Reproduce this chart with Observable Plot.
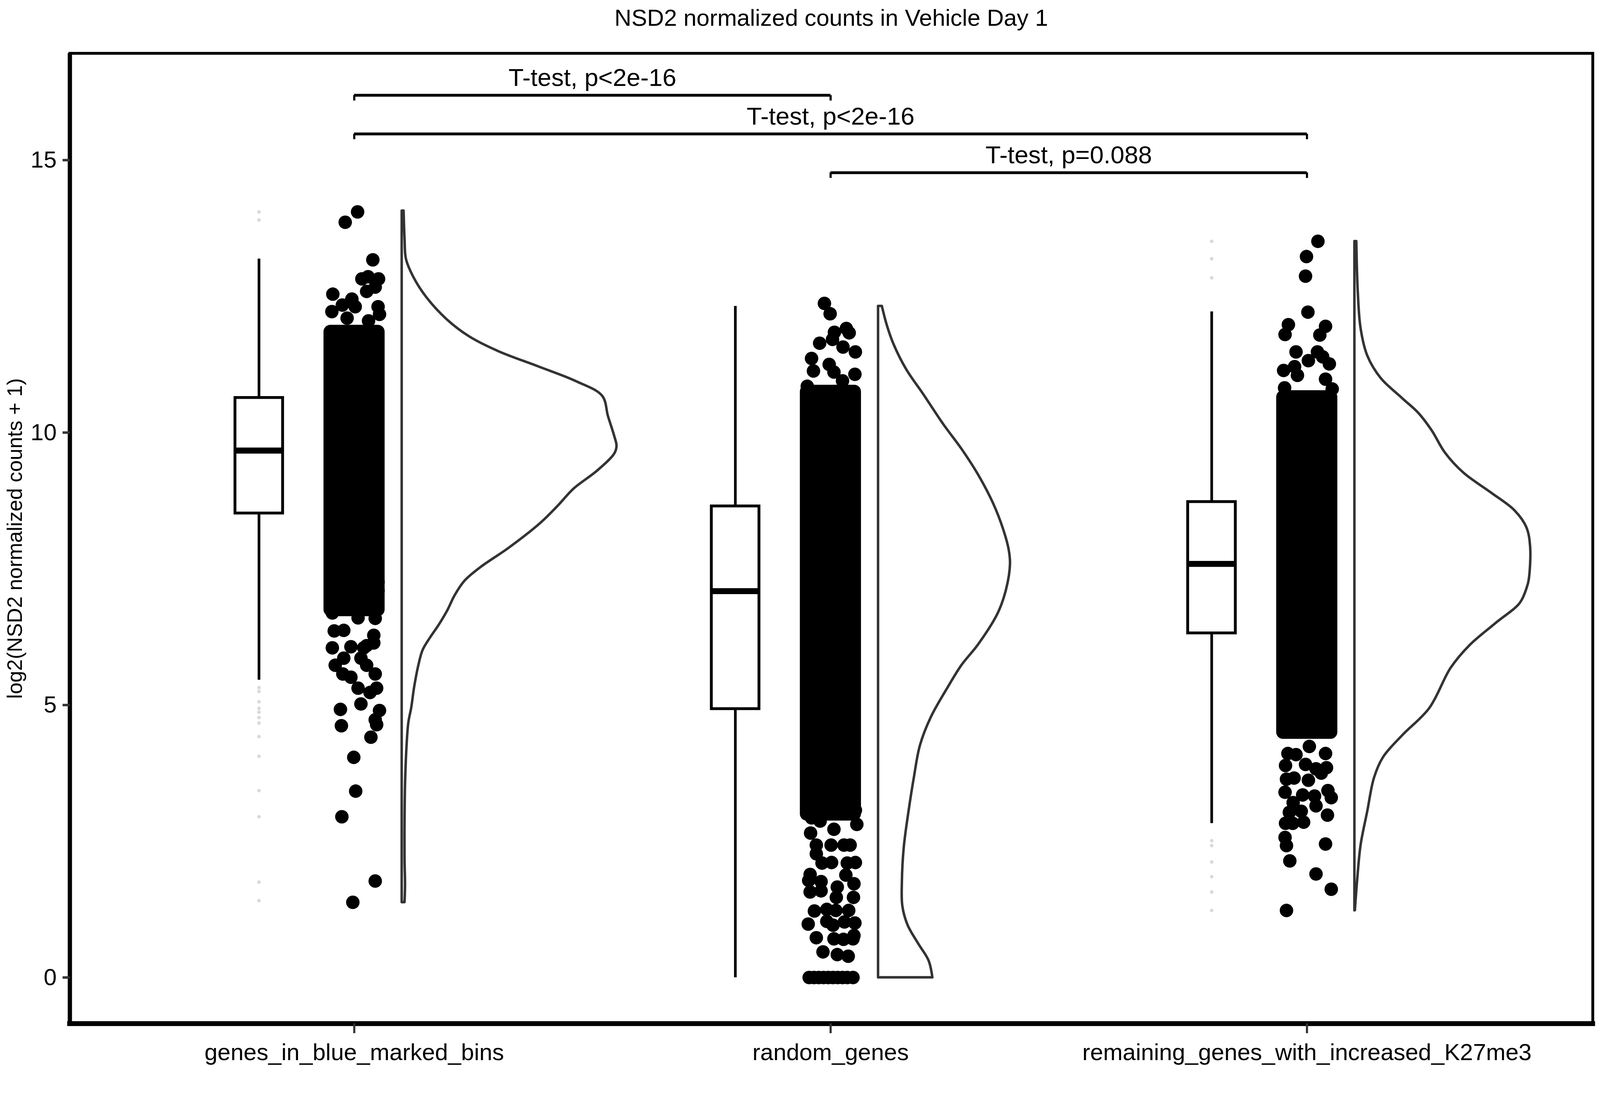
<!DOCTYPE html>
<html><head><meta charset="utf-8">
<script src="https://cdn.jsdelivr.net/npm/d3@7"></script>
<script src="https://cdn.jsdelivr.net/npm/@observablehq/plot@0.6"></script>
<style>
html,body{margin:0;padding:0;background:#fff;}
body{position:relative;width:100vw;height:100vh;overflow:hidden;font-family:"Liberation Sans",Arial,sans-serif;}
#title{position:absolute;transform:translateX(-50%);white-space:nowrap;line-height:1;color:#000;}
#chart{position:absolute;left:0;}
</style></head><body>
<div id="title">NSD2 normalized counts in Vehicle Day 1</div>
<div id="chart"></div>
<script>
// ---------- data ----------
const categories = ["genes_in_blue_marked_bins", "random_genes", "remaining_genes_with_increased_K27me3"];
const yTicks = [0, 5, 10, 15];
const yLabel = "log2(NSD2 normalized counts + 1)";

// boxplot statistics
const whiskerLow  = [5.46, 0.00, 2.83];
const boxQ1       = [8.52, 4.93, 6.32];
const boxMedian   = [9.67, 7.09, 7.59];
const boxQ3       = [10.64, 8.65, 8.73];
const whiskerHigh = [13.19, 12.32, 12.22];

// boxplot outliers
const outliers1 = [14.05, 13.90, 5.32, 5.25, 5.06, 4.94, 4.87, 4.77, 4.67, 4.42, 4.06, 3.43, 2.95, 1.75, 1.41];
const outliers2 = [];
const outliers3 = [13.51, 13.19, 12.84, 2.51, 2.42, 2.12, 1.85, 1.57, 1.23];

// half-violin density profile: [value, width in category units]
const violin1 = [[1.38,0.006],[1.71,0.007],[2.16,0.006],[2.85,0.006],[3.53,0.007],[4.22,0.010],[4.68,0.014],[4.95,0.020],[5.32,0.026],[5.73,0.035],[6.01,0.044],[6.23,0.059],[6.46,0.077],[6.74,0.096],[7.01,0.111],[7.28,0.132],[7.52,0.164],[7.88,0.224],[8.34,0.291],[8.65,0.327],[8.97,0.361],[9.29,0.409],[9.61,0.446],[9.75,0.451],[9.94,0.446],[10.30,0.433],[10.67,0.421],[10.94,0.366],[11.21,0.287],[11.49,0.203],[11.76,0.142],[12.08,0.094],[12.49,0.051],[12.86,0.024],[13.18,0.009],[13.55,0.006],[14.07,0.004]];
const violin2 = [[0.00,0.114],[0.31,0.106],[0.61,0.085],[0.96,0.062],[1.31,0.051],[1.74,0.050],[2.39,0.054],[3.05,0.064],[3.66,0.075],[4.26,0.088],[4.78,0.111],[5.35,0.148],[5.73,0.175],[6.11,0.210],[6.68,0.251],[7.13,0.269],[7.59,0.277],[7.86,0.274],[8.24,0.262],[8.69,0.242],[9.24,0.209],[9.70,0.175],[10.15,0.137],[10.70,0.095],[11.16,0.059],[11.61,0.033],[11.98,0.018],[12.32,0.008]];
const violin3 = [[1.23,0.001],[1.81,0.006],[2.43,0.013],[3.05,0.027],[3.66,0.041],[4.04,0.060],[4.44,0.100],[4.94,0.157],[5.68,0.202],[6.09,0.241],[6.50,0.296],[6.87,0.347],[7.16,0.362],[7.30,0.366],[7.89,0.369],[8.26,0.361],[8.57,0.336],[8.90,0.286],[9.26,0.229],[9.63,0.190],[10.04,0.162],[10.36,0.134],[10.63,0.100],[11.00,0.055],[11.41,0.027],[11.91,0.013],[12.60,0.007],[13.51,0.004]];

// dense part of each jitter cloud (value range where points fully overlap)
const coreLow  = [6.75, 3.00, 4.50];
const coreHigh = [11.85, 10.75, 10.65];

// individually visible jittered points: [value, observed jitter in category units]
const jitter1 = [[14.05,0.007],[13.86,-0.019],[13.17,0.039],[12.86,0.029],[12.82,0.051],[12.82,0.016],[12.67,0.044],[12.59,0.026],[12.54,-0.045],[12.45,-0.005],[12.34,-0.025],[12.31,0.002],[12.31,0.050],[12.22,-0.047],[12.17,0.053],[12.10,-0.015],[12.05,0.030],[11.83,-0.049],
  [7.26,0.050],[7.10,0.050],[7.05,-0.046],[6.69,-0.046],[6.60,0.008],[6.59,0.044],[6.37,-0.022],[6.36,-0.042],[6.28,0.041],[6.14,0.041],[6.09,0.026],[6.07,-0.007],[6.05,-0.046],[6.05,0.020],[5.86,-0.022],[5.86,0.014],[5.73,-0.040],[5.73,0.026],[5.57,-0.024],[5.57,0.044],[5.51,-0.007],[5.31,0.008],[5.31,0.047],[5.23,0.033],[5.02,0.014],[4.92,-0.029],[4.90,0.053],[4.73,0.044],[4.64,0.047],[4.62,-0.027],[4.41,0.035],[4.04,-0.001],[3.42,0.003],[2.95,-0.026],[1.77,0.044],[1.38,-0.003]];
const jitter2 = [[12.37,-0.013],[12.18,-0.001],[11.91,0.033],[11.83,0.039],[11.84,0.008],[11.64,-0.023],[11.71,0.004],[11.57,0.026],[11.48,0.052],[11.36,-0.040],[11.25,-0.003],[11.13,-0.036],[11.07,0.051],[10.95,0.025],[10.85,-0.049],[11.11,0.007],
  [3.09,-0.019],[3.07,0.052],[3.05,0.012],
  [2.93,-0.040],[2.87,-0.022],[2.81,0.055],[2.72,0.007],[2.65,-0.042],
  [2.43,-0.030],[2.43,0.001],[2.43,0.028],[2.43,0.041],
  [2.27,-0.030],[2.11,0.002],[2.10,-0.018],[2.11,0.052],[2.10,0.035],
  [1.89,-0.043],[1.88,0.032],[1.78,-0.046],[1.76,-0.020],[1.66,0.014],[1.72,0.049],
  [1.57,-0.043],[1.59,-0.020],[1.47,0.012],[1.47,0.048],
  [1.22,-0.034],[1.25,-0.008],[1.23,0.011],[1.23,0.038],
  [0.98,-0.047],[1.03,-0.008],[0.96,0.005],[1.02,0.029],[1.00,0.051],
  [0.73,-0.030],[0.71,0.007],[0.70,0.027],[0.71,0.047],[0.77,0.049],
  [0.47,-0.016],[0.42,0.014],[0.39,0.037],
  [0,-0.045],[0,-0.035],[0,-0.025],[0,-0.015],[0,-0.005],[0,0.005],[0,0.015],[0,0.025],[0,0.035],[0,0.047]];
const jitter3 = [[13.51,0.023],[13.23,-0.001],[12.87,-0.003],[12.21,0.002],[11.98,-0.039],[11.80,-0.046],[11.95,0.039],[11.79,0.027],[11.48,-0.023],[11.48,0.022],[11.39,0.033],[11.26,0.047],[11.32,0.003],[11.14,-0.049],[11.21,-0.026],[11.05,-0.020],[10.98,0.039],[10.82,-0.047],[10.80,0.053],
  [4.11,-0.040],[4.09,-0.023],[4.24,0.005],[4.11,0.039],[3.85,0.041],[3.89,-0.045],[3.91,-0.003],[3.83,0.019],[3.64,-0.043],[3.66,-0.027],[3.62,0.003],[3.75,0.030],[3.40,-0.046],[3.35,-0.009],[3.33,0.016],[3.43,0.044],[3.30,0.051],[3.21,-0.029],[3.15,0.019],[3.05,-0.012],[3.03,-0.037],[2.98,0.043],[2.85,-0.007],[2.83,-0.045],[2.83,-0.030],[2.57,-0.046],[2.42,-0.043],[2.45,0.039],[2.14,-0.036],[1.90,0.019],[1.62,0.051],[1.23,-0.043]];

// significance brackets
const bracketFrom   = [1, 1, 2];
const bracketTo     = [2, 3, 3];
const bracketY      = [16.19, 15.48, 14.77];
const bracketLabels = ["T-test, p<2e-16", "T-test, p<2e-16", "T-test, p=0.088"];

// ---------- layout (designed for 4960x2834, scaled to the actual window) ----------
const W = window.innerWidth || 4960, H = window.innerHeight || 2834;
const kx = W / 4960, ky = H / 2834, kf = Math.sqrt(kx * ky);
const X_DOMAIN = [0.403, 3.600];
const Y_DOMAIN = [-0.846, 16.96];
const BOX_OFF = -0.2, BOX_HALF = 0.05, VIOLIN_OFF = 0.1, JITTER_HALF = 0.05;
const TITLE_H = 110 * ky;
const DOT_R = 19 * kf;

const titleEl = document.getElementById("title");
titleEl.style.left = (2577 * kx) + "px";
titleEl.style.top = (16 * ky) + "px";
titleEl.style.fontSize = (66 * kf) + "px";
document.getElementById("chart").style.top = TITLE_H + "px";

// ---------- tables ----------
const boxes = categories.map((c, i) => ({pos: i + 1, lo: whiskerLow[i], q1: boxQ1[i], med: boxMedian[i], q3: boxQ3[i], hi: whiskerHigh[i]}));
const violins = [violin1, violin2, violin3].flatMap((v, i) => v.map(([value, w]) => ({pos: i + 1, value, w})));
const points = [jitter1, jitter2, jitter3].flatMap((v, i) => v.map(([value, j]) => ({pos: i + 1, value, j})));
const outs = [outliers1, outliers2, outliers3].flatMap((v, i) => v.map(value => ({pos: i + 1, value})));
const cores = categories.map((c, i) => ({pos: i + 1, lo: coreLow[i], hi: coreHigh[i]}));
const brackets = bracketFrom.map((f, i) => ({from: f, to: bracketTo[i], y: bracketY[i], label: bracketLabels[i]}));
const bracketEnds = brackets.flatMap(b => [{x: b.from, y: b.y}, {x: b.to, y: b.y}]);

const plot = Plot.plot({
  width: W,
  height: H - TITLE_H,
  marginTop: 26 * ky,
  marginBottom: 214 * ky,
  marginLeft: 216 * kx,
  marginRight: 23 * kx,
  style: {fontFamily: "'Liberation Sans', Arial, sans-serif", background: "white", color: "black", overflow: "visible"},
  x: {domain: X_DOMAIN},
  y: {domain: Y_DOMAIN},
  marks: [
    // half violins
    Plot.areaX(violins, {x1: d => d.pos + VIOLIN_OFF, x2: d => d.pos + VIOLIN_OFF + d.w, y: "value", z: "pos",
      fill: "white", stroke: "#333333", strokeWidth: 7 * kf, strokeLinejoin: "round", curve: "catmull-rom"}),
    // boxplots
    Plot.ruleX(boxes, {x: d => d.pos + BOX_OFF, y1: "q3", y2: "hi", stroke: "black", strokeWidth: 7.5 * kf}),
    Plot.ruleX(boxes, {x: d => d.pos + BOX_OFF, y1: "lo", y2: "q1", stroke: "black", strokeWidth: 7.5 * kf}),
    Plot.rect(boxes, {x1: d => d.pos + BOX_OFF - BOX_HALF, x2: d => d.pos + BOX_OFF + BOX_HALF, y1: "q1", y2: "q3",
      fill: "white", stroke: "black", strokeWidth: 8 * kf}),
    Plot.ruleY(boxes, {y: "med", x1: d => d.pos + BOX_OFF - BOX_HALF, x2: d => d.pos + BOX_OFF + BOX_HALF, stroke: "black", strokeWidth: 17 * kf}),
    Plot.dot(outs, {x: d => d.pos + BOX_OFF, y: "value", r: 5 * kf, fill: "black", fillOpacity: 0.15}),
    // jitter clouds
    Plot.rect(cores, {x1: d => d.pos - JITTER_HALF, x2: d => d.pos + JITTER_HALF, y1: "lo", y2: "hi",
      fill: "black", stroke: "black", strokeWidth: 2 * DOT_R, strokeLinejoin: "round"}),
    Plot.dot(points, {x: d => d.pos + d.j, y: "value", r: DOT_R, fill: "black"}),
    // brackets
    Plot.ruleY(brackets, {y: "y", x1: "from", x2: "to", stroke: "black", strokeWidth: 8 * kf}),
    Plot.ruleX(bracketEnds, {x: "x", y1: "y", y2: d => d.y - 0.1, stroke: "black", strokeWidth: 6 * kf}),
    Plot.text(brackets, {x: d => (d.from + d.to) / 2, y: "y", text: "label", dy: -24 * ky, lineAnchor: "bottom", fontSize: 70 * kf, fill: "black"}),
    // panel border + axis lines
    Plot.frame({stroke: "black", strokeWidth: 8 * kf}),
    Plot.ruleX([X_DOMAIN[0]], {stroke: "black", strokeWidth: 12 * kf}),
    Plot.ruleY([Y_DOMAIN[0]], {stroke: "black", strokeWidth: 14 * kf, strokeLinecap: "square"}),
    // axes
    Plot.axisX({ticks: [1, 2, 3], tickFormat: d => categories[d - 1], tickSize: 25 * ky, tickPadding: 26 * ky, fontSize: 66 * kf,
      stroke: "#333333", strokeWidth: 6 * kf, label: null}),
    Plot.axisY({ticks: yTicks, tickSize: 22 * kx, tickPadding: 19 * kx, fontSize: 66 * kf, stroke: "#333333", strokeWidth: 7 * kf, label: null}),
    Plot.text([yLabel], {text: d => d, frameAnchor: "left", rotate: -90, dx: -149 * kx, lineAnchor: "bottom", textAnchor: "middle", fontSize: 59 * kf, fill: "black"})
  ]
});
document.getElementById("chart").append(plot);
</script>
</body></html>
